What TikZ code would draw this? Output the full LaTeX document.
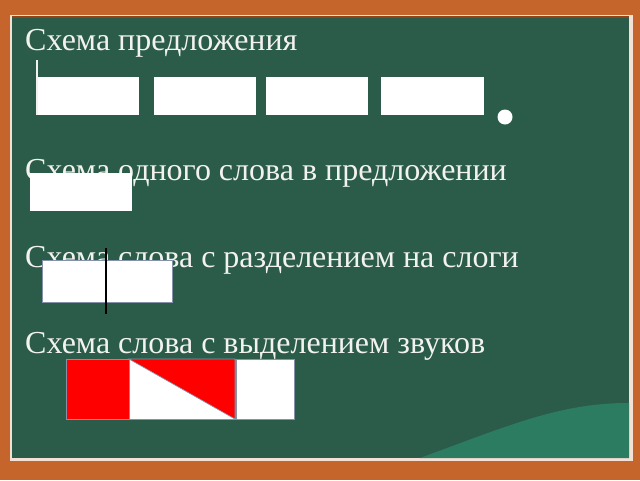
\documentclass[tikz,border=0pt]{standalone}
\usepackage{fontspec}
\setmainfont{Liberation Serif}

\definecolor{board}{HTML}{2B5C4A}
\definecolor{boardlight}{HTML}{2C7C62}
\definecolor{wood}{HTML}{C5652C}
\definecolor{wooddark}{HTML}{8E4419}
\definecolor{chalk}{HTML}{F2F2EE}
\definecolor{edge}{HTML}{8592AA}

\tikzset{
  caption/.style={anchor=base west, inner sep=0pt, text=chalk, font=\fontsize{32}{38}\selectfont},
  soundbox/.style={draw=edge, line width=0.7pt},
}

\begin{document}
\begin{tikzpicture}[x=1pt,y=-1pt]
    % --- Board ---
    \useasboundingbox (0,0) rectangle (640,480);
    \fill[wood] (0,0) rectangle (640,480);
    \fill[white!80!wood] (10,15) rectangle (633,461);
    \fill[board] (12,18) rectangle (629,458);
    \draw[wooddark, line width=1.5pt] (12,17) -- (629,17);
    \fill[boardlight] (420,458) .. controls (510,425) and (560,403) .. (629,403) -- (629,458) -- cycle;

    % --- Captions ---
    \node[caption] (sentence) at (25,50) {Схема предложения};
    \node[caption] (word) at (25,180) {Схема одного слова в предложении};
    \node[caption] (syllables) at (25,267) {Схема слова с разделением на слоги};
    \node[caption] (sounds) at (25,353) {Схема слова с выделением звуков};

    % --- Sentence: four words and a full stop ---
    \foreach \a/\b in {37/139, 154/256, 266/368, 381/484}
        \fill[white] (\a,77) rectangle (\b,115);
    \draw[chalk, line width=1.5pt] (37,60) -- (37,115); % capital letter mark
    \fill[white] (505,117) circle (7.5);

    % --- One word ---
    \fill[white] (30,173) rectangle (132,211);

    % --- Word split into syllables ---
    \coordinate (S1) at (42,260);
    \coordinate (S2) at (172,302);
    \filldraw[fill=white, soundbox] (S1) rectangle (S2);
    \draw[black, line width=1.5pt] (106,248) -- (106,314); % syllable border

    % --- Word with sounds ---
    \coordinate (A) at (66,359);
    \coordinate (B) at (129,359);
    \coordinate (C) at (235,359);
    \coordinate (D) at (235,419);
    \coordinate (E) at (129,419);
    \filldraw[fill=red, soundbox] (A) rectangle (E);
    \filldraw[fill=white, soundbox] (B) rectangle (D);
    \filldraw[fill=red, soundbox] (B) -- (C) -- (D) -- cycle;
    \filldraw[fill=white, soundbox] (236,359) rectangle (294,419);

\end{tikzpicture}
\end{document}
